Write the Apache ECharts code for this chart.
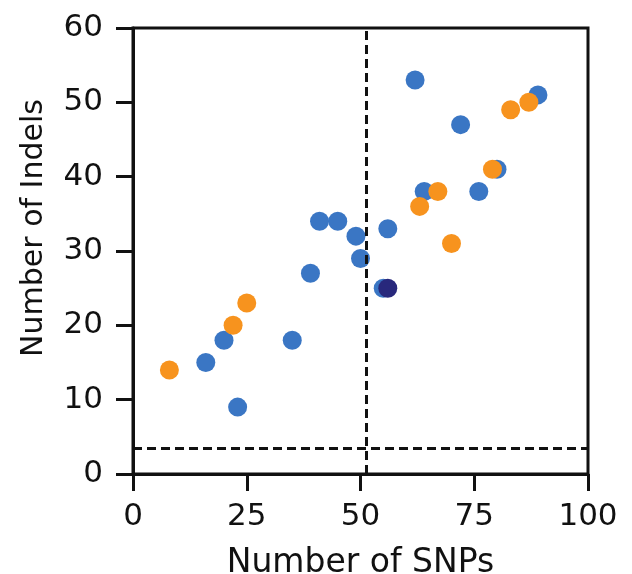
<!DOCTYPE html>
<html>
<head>
<meta charset="utf-8">
<script src="https://cdn.jsdelivr.net/npm/echarts@6/dist/echarts.min.js"></script>
<style>
  html, body { margin: 0; padding: 0; background: #fff; }
  #chart { width: 632px; height: 574px; }
</style>
</head>
<body>
<div id="chart"></div>
<script>
// points: [SNPs, Indels]
var bluePoints = [
  [16, 15], [20, 18], [23, 9], [35, 18], [39, 27], [41, 34], [45, 34],
  [49, 32], [50, 29], [55, 25], [56, 33], [62, 53], [64, 38], [72, 47],
  [76, 38], [80, 41], [89, 51]
];
var orangePoints = [
  [8, 14], [22, 20], [25, 23], [63, 36], [67, 38], [70, 31], [79, 41],
  [83, 49], [87, 50]
];
var navyPoints = [[56, 25]];

// threshold lines
var snpCutoff = 51.2;
var indelCutoff = 3.5;

var xTicks = [0, 25, 50, 75, 100];
var yTicks = [0, 10, 20, 30, 40, 50, 60];

var font = "DejaVu Sans";
var ink = "#111";

var myChart = echarts.init(document.getElementById("chart"));

function axisCommon() {
  return {
    splitLine: { show: false },
    axisLine: { show: true, onZero: false, lineStyle: { color: ink, width: 3 } },
    axisTick: { show: true, inside: false, length: 17, lineStyle: { color: ink, width: 3 } },
    nameLocation: "middle"
  };
}

var xAxis = axisCommon();
xAxis.type = "value";
xAxis.min = xTicks[0];
xAxis.max = xTicks[xTicks.length - 1];
xAxis.interval = xTicks[1] - xTicks[0];
xAxis.name = "Number of SNPs";
xAxis.nameGap = 73;
xAxis.nameTextStyle = { fontFamily: font, fontSize: 33, color: ink };
xAxis.axisLabel = { fontFamily: font, fontSize: 31, color: ink, margin: 27 };

var yAxis = axisCommon();
yAxis.type = "value";
yAxis.min = yTicks[0];
yAxis.max = yTicks[yTicks.length - 1];
yAxis.interval = yTicks[1] - yTicks[0];
yAxis.name = "Number of Indels";
yAxis.nameGap = 84;
yAxis.nameTextStyle = { fontFamily: font, fontSize: 30, color: ink, padding: [0, 0, 0, 46] };
yAxis.axisLabel = { fontFamily: font, fontSize: 31, color: ink, margin: 30 };

var dash = { color: ink, width: 3, type: [9, 5] };

var option = {
  animation: false,
  grid: {
    left: 133, right: 44, top: 28, bottom: 100,
    outerBoundsMode: "none",
    containLabel: false,
    show: true, borderColor: ink, borderWidth: 3, backgroundColor: "transparent"
  },
  xAxis: xAxis,
  yAxis: yAxis,
  series: [
    {
      name: "blue",
      type: "scatter",
      symbolSize: 19,
      itemStyle: { color: "#3a76c4", opacity: 1 },
      data: bluePoints,
      z: 2,
      markLine: {
        silent: true,
        symbol: "none",
        label: { show: false },
        lineStyle: dash,
        data: [{ xAxis: snpCutoff }, { yAxis: indelCutoff }]
      }
    },
    {
      name: "orange",
      type: "scatter",
      symbolSize: 19,
      itemStyle: { color: "#f7931e", opacity: 1 },
      data: orangePoints,
      z: 3
    },
    {
      name: "navy",
      type: "scatter",
      symbolSize: 19,
      itemStyle: { color: "#28287c", opacity: 1 },
      data: navyPoints,
      z: 4
    }
  ]
};

myChart.setOption(option);
</script>
</body>
</html>
